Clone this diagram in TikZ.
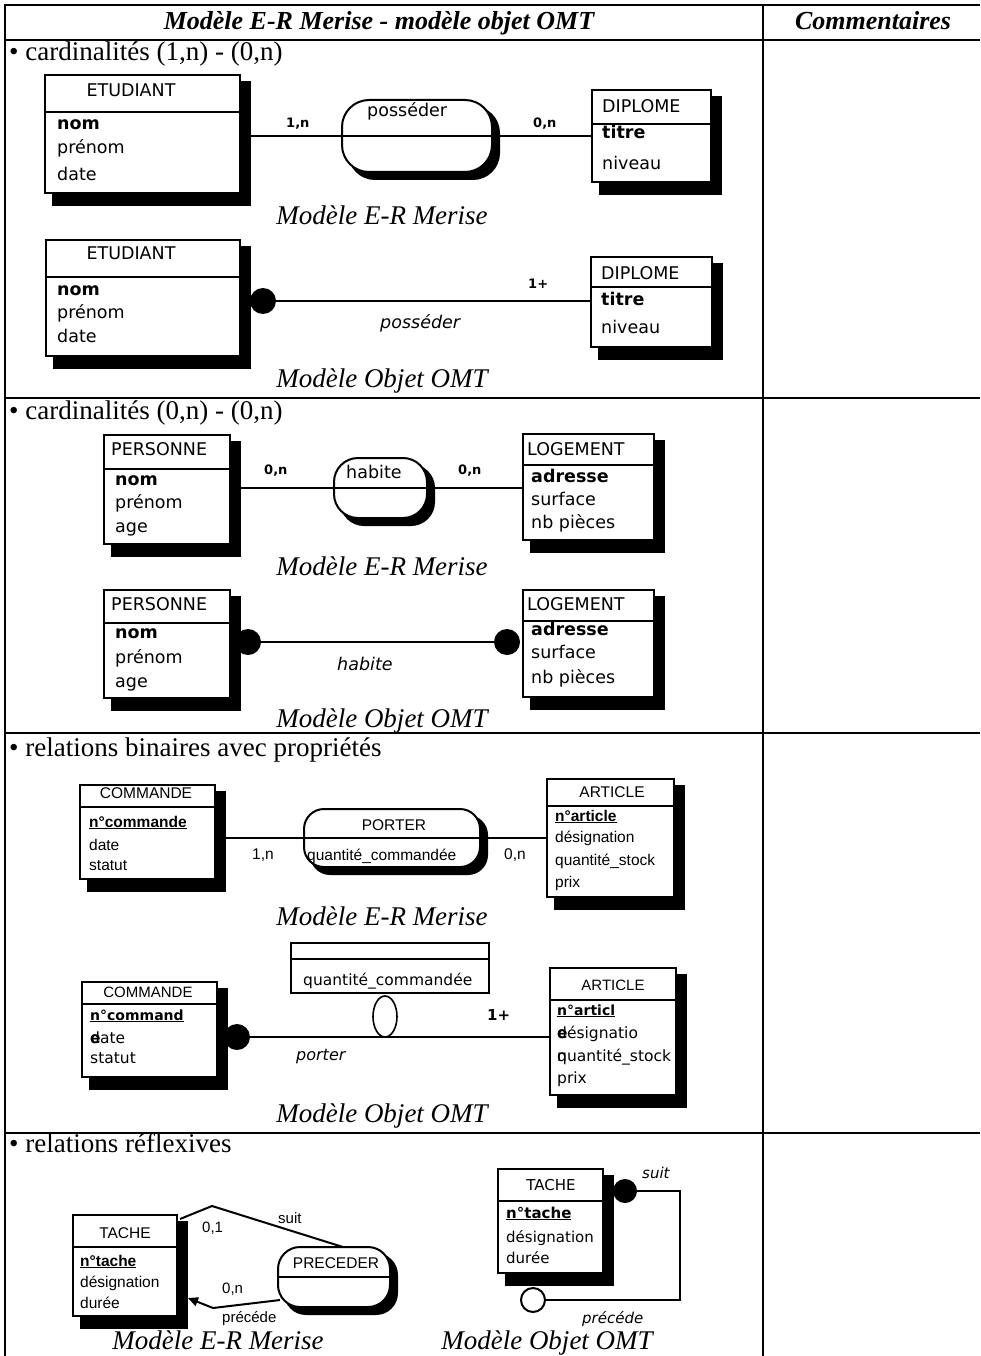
\documentclass[tikz,border=0pt]{standalone}
\usepackage{fontspec}
\setmainfont{Liberation Serif}
\newfontfamily\genevafont{DejaVu Sans}
\newfontfamily\helvfont{Liberation Sans}
\usetikzlibrary{arrows.meta,shapes.geometric}

\tikzset{
  grid line/.style={line width=2.6pt},
  eshadow/.style={fill=black},
  eframe/.style={draw, fill=white, line width=1.8pt, inner sep=0pt, outer sep=0pt},
  ebar/.style={line width=1.8pt},
  rframe/.style={draw, fill=white, line width=2pt, inner sep=0pt, outer sep=0pt},
  conn/.style={line width=2.2pt},
  ball/.style={circle, fill=black, minimum size=26pt, inner sep=0pt},
  ring/.style={circle, draw, fill=white, line width=2pt, minimum size=24pt, inner sep=0pt},
  tcaption/.style={inner sep=0pt, anchor=base, font=\fontsize{27}{30}\selectfont\itshape},
  thead/.style={inner sep=0pt, anchor=base, font=\fontsize{26}{30}\selectfont\bfseries\itshape},
  ttopic/.style={inner sep=0pt, anchor=base west, font=\fontsize{27}{30}\selectfont},
  tgv/.style={inner sep=0pt, anchor=base west, font=\genevafont\fontsize{#1}{#1}\selectfont},
  tgv/.default=17.5,
  thv/.style={inner sep=0pt, anchor=base west, font=\helvfont\fontsize{#1}{#1}\selectfont},
  thv/.default=15.5,
  tcard/.style={inner sep=0pt, anchor=base west, font=\genevafont\bfseries\fontsize{13}{14}\selectfont},
}

% class box with its heavy drop shadow and header bar
\newcommand\entity[6]{%
  \fill[eshadow] (#2+7,#3+6) rectangle (#4+11,#5+13);
  \node[eframe, anchor=north west, minimum width=#4-#2, minimum height=#5-#3] (#1) at (#2,#3) {};
  \draw[ebar] (#2,#6) -- (#4,#6);
}
% rounded relationship box with shadow and middle bar
\newcommand\relation[6]{%
  \fill[eshadow, rounded corners=#6] (#2+6,#3+6) rectangle (#4+8,#5+8);
  \node[rframe, rounded corners=#6, anchor=north west, minimum width=#4-#2, minimum height=#5-#3] (#1) at (#2,#3) {};
  \draw[ebar] (#1.west) -- (#1.east);
}

\begin{document}
\begin{tikzpicture}[x=1pt, y=-1pt]
\useasboundingbox (0,0) rectangle (980,1356);

% table rules
\draw[grid line] (5,5) -- (980,5);
\draw[grid line] (5,40) -- (980,40);
\draw[grid line] (5,398) -- (980,398);
\draw[grid line] (5,733) -- (980,733);
\draw[grid line] (5,1133) -- (980,1133);
\draw[grid line] (5,4) -- (5,1356);
\draw[grid line] (763,4) -- (763,1356);

\node[thead] (hdA) at (379,30) {Modèle E-R Merise - modèle objet OMT};
\node[thead] (hdB) at (873,30) {Commentaires};

% ---------- cardinalités (1,n) - (0,n)
\node[ttopic] (topA) at (9,61) {• cardinalités (1,n) - (0,n)};

\entity{etuA}{45}{75}{240}{193}{112}
\relation{posA}{342}{100}{492}{172}{27pt}
\entity{dipA}{592}{90}{711}{182}{124}
\draw[conn] (etuA.east |- posA.west) -- (posA.west);
\draw[conn] (posA.east) -- (dipA.west |- posA.east);

\node[tgv, anchor=base] (etuAn) at (131,97) {ETUDIANT};
\node[tgv] (etuA1) at (57,130) {\bfseries nom};
\node[tgv] (etuA2) at (57,154) {prénom};
\node[tgv] (etuA3) at (57,181) {date};
\node[tcard] (cdA1) at (286,128) {1,n};
\node[tgv] (posAn) at (367,117) {posséder};
\node[tcard] (cdA2) at (533,128) {0,n};
\node[tgv] (dipAn) at (602,113) {DIPLOME};
\node[tgv] (dipA1) at (602,139) {\bfseries titre};
\node[tgv] (dipA2) at (602,170) {niveau};
\node[tcaption] (capA) at (382,225) {Modèle E-R Merise};

\node[ball] (balA) at (263,301) {};
\entity{etuB}{46}{240}{240}{356}{277}
\entity{dipB}{591}{257}{712}{347}{287}
\draw[conn] (balA.east) -- (dipB.west |- balA.east);

\node[tgv, anchor=base] (etuBn) at (131,259) {ETUDIANT};
\node[tgv] (etuB1) at (57,295) {\bfseries nom};
\node[tgv] (etuB2) at (57,318) {prénom};
\node[tgv] (etuB3) at (57,342) {date};
\node[tcard] (cdB1) at (528,288) {1+};
\node[tgv] (posB) at (380,328) {\itshape posséder};
\node[tgv] (dipBn) at (601,279) {DIPLOME};
\node[tgv] (dipB1) at (601,305) {\bfseries titre};
\node[tgv] (dipB2) at (601,333) {niveau};
\node[tcaption] (capB) at (382,387) {Modèle Objet OMT};

% ---------- cardinalités (0,n) - (0,n)
\node[ttopic] (topB) at (9,419) {• cardinalités (0,n) - (0,n)};

\entity{perA}{104}{435}{230}{544}{469}
\draw[ebar] (230,469) -- (241,469);
\relation{habA}{334}{458}{427}{518}{24pt}
\entity{logA}{523}{434}{654}{540}{465}
\draw[conn] (perA.east |- habA.west) -- (habA.west);
\draw[conn] (habA.east) -- (logA.west |- habA.east);

\node[tgv] (perAn) at (111,455) {PERSONNE};
\node[tgv] (perA1) at (115,485) {\bfseries nom};
\node[tgv] (perA2) at (115,508) {prénom};
\node[tgv] (perA3) at (115,532) {age};
\node[tcard] (cdC1) at (264,474) {0,n};
\node[tgv] (habAn) at (346,478) {habite};
\node[tcard] (cdC2) at (458,474) {0,n};
\node[tgv] (logAn) at (527,455) {LOGEMENT};
\node[tgv] (logA1) at (531,482) {\bfseries adresse};
\node[tgv] (logA2) at (531,505) {surface};
\node[tgv] (logA3) at (531,528) {nb pièces};
\node[tcaption] (capC) at (382,575) {Modèle E-R Merise};

\node[ball] (balB) at (248,642) {};
\node[ball] (balC) at (507,642) {};
\entity{perB}{104}{590}{230}{698}{623}
\draw[ebar] (230,623) -- (241,623);
\entity{logB}{523}{590}{654}{697}{621}
\draw[conn] (balB) -- (balC);

\node[tgv] (perBn) at (111,610) {PERSONNE};
\node[tgv] (perB1) at (115,638) {\bfseries nom};
\node[tgv] (perB2) at (115,663) {prénom};
\node[tgv] (perB3) at (115,687) {age};
\node[tgv] (habB) at (337,670) {\itshape habite};
\node[tgv] (logBn) at (527,610) {LOGEMENT};
\node[tgv] (logB1) at (531,635) {\bfseries adresse};
\node[tgv] (logB2) at (531,658) {surface};
\node[tgv] (logB3) at (531,683) {nb pièces};
\node[tcaption] (capD) at (382,727) {Modèle Objet OMT};

% ---------- relations binaires avec propriétés
\node[ttopic] (topC) at (9,756) {• relations binaires avec propriétés};

\entity{cmdA}{80}{785}{215}{879}{807}
\relation{porA}{304}{809}{480}{867}{20pt}
\entity{artA}{547}{779}{674}{897}{806}
\draw[conn] (cmdA.east |- porA.west) -- (porA.west);
\draw[conn] (porA.east) -- (artA.west |- porA.east);

\node[thv, anchor=base] (cmdAn) at (146,798) {COMMANDE};
\node[thv] (cmdA1) at (89,827) {\bfseries\underline{n°commande}};
\node[thv] (cmdA2) at (89,850) {date};
\node[thv] (cmdA3) at (89,870) {statut};
\node[thv] (cdD1) at (252,859) {1,n};
\node[thv, anchor=base] (porAn) at (394,830) {PORTER};
\node[thv] (porA1) at (307,860) {quantité\_commandée};
\node[thv] (cdD2) at (504,859) {0,n};
\node[thv, anchor=base] (artAn) at (612,797) {ARTICLE};
\node[thv] (artA1) at (555,821) {\bfseries\underline{n°article}};
\node[thv] (artA2) at (555,842) {désignation};
\node[thv] (artA3) at (555,865) {quantité\_stock};
\node[thv] (artA4) at (555,887) {prix};
\node[tcaption] (capE) at (382,925) {Modèle E-R Merise};

\node[eframe, line width=1.6pt, anchor=north west, minimum width=198, minimum height=50] (qty) at (291,943) {};
\draw[ebar, line width=1.6pt] (qty.west |- 0,959) -- (qty.east |- 0,959);
\node[tgv=15.5] (qty1) at (303,985) {quantité\_commandée};

\node[ball] (balD) at (237,1037) {};
\entity{cmdB}{82}{982}{217}{1077}{1004}
\entity{artB}{550}{968}{676}{1095}{1000}
\draw[conn] (balD) -- (artB.west |- balD);
\node[ellipse, draw, fill=white, line width=1.6pt, minimum width=24, minimum height=41, inner sep=0pt] (qring) at (385,1016.5) {};

\node[thv=15, anchor=base] (cmdBn) at (148,997) {COMMANDE};
\node[tgv=14] (cmdB1) at (90,1020) {\bfseries\underline{n°command}};
\node[tgv=15.5] (cmdB2) at (90,1043) {\rlap{\bfseries e}date};
\node[tgv=15.5] (cmdB3) at (90,1063) {statut};
\node[tgv=16] (porB) at (296,1060) {\itshape porter};
\node[tgv=15] (cdE1) at (487,1020) {\bfseries 1+};
\node[thv=15, anchor=base] (artBn) at (613,990) {ARTICLE};
\node[tgv=14] (artB1) at (557,1015) {\bfseries\underline{n°articl}};
\node[tgv=15.5] (artB2) at (557,1038) {\rlap{\bfseries e}désignatio};
\node[tgv=15.5] (artB3) at (557,1061) {\rlap{n}quantité\_stock};
\node[tgv=15.5] (artB4) at (557,1083) {prix};
\node[tcaption] (capF) at (382,1122) {Modèle Objet OMT};

% ---------- relations réflexives
\node[ttopic] (topD) at (9,1152) {• relations réflexives};

\entity{tacA}{73}{1215}{177}{1316}{1247}
\relation{preA}{278}{1247}{390}{1307}{22pt}
\coordinate (suitK) at (212,1206);
\coordinate (precK) at (213,1308);
\draw[conn, line width=2pt] ([shift={(3,4)}]tacA.north east) -- (suitK) -- ([xshift=9pt]preA.north);
\draw[conn, line width=2pt, -{Triangle[length=10pt, width=9pt]}] ([shift={(2,23)}]preA.west) -- (precK) -- ([shift={(11,-18)}]tacA.south east);

\node[thv, anchor=base] (tacAn) at (125,1238) {TACHE};
\node[thv] (tacA1) at (80,1266) {\bfseries\underline{n°tache}};
\node[thv] (tacA2) at (80,1287) {désignation};
\node[thv] (tacA3) at (80,1308) {durée};
\node[thv=15] (cdF1) at (202,1232) {0,1};
\node[thv=15] (sutA) at (278,1223) {suit};
\node[thv, anchor=base] (preAn) at (336,1268) {PRECEDER};
\node[thv=15] (cdF2) at (222,1293) {0,n};
\node[thv=15] (prcA) at (222,1322) {précéde};
\node[tcaption] (capG) at (218,1349) {Modèle E-R Merise};

\entity{tacB}{498}{1169}{603}{1273}{1201}
\node[ball, minimum size=24pt] (balE) at (625,1191) {};
\node[ring] (ringE) at (533,1300) {};
\coordinate (loopE) at (680,1300);
\draw[conn] (balE.east) -| (loopE) -- (ringE.east);

\node[tgv=15, anchor=base] (tacBn) at (551,1190) {TACHE};
\node[tgv=15] (tacB1) at (506,1218) {\bfseries\underline{n°tache}};
\node[tgv=15] (tacB2) at (506,1242) {désignation};
\node[tgv=15] (tacB3) at (506,1263) {durée};
\node[tgv=15] (sutB) at (642,1178) {\itshape suit};
\node[tgv=15] (prcB) at (582,1323) {\itshape précéde};
\node[tcaption] (capH) at (547,1349) {Modèle Objet OMT};
\end{tikzpicture}
\end{document}
